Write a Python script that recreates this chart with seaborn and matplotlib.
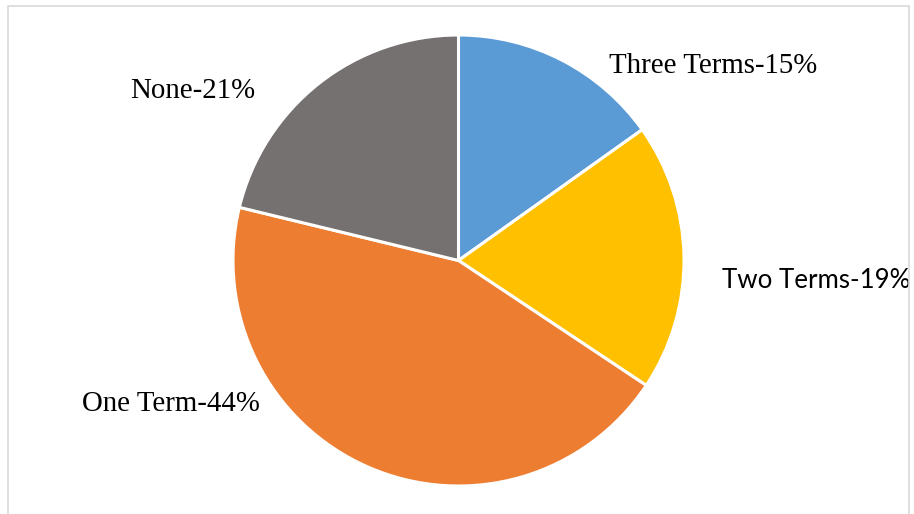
import matplotlib
matplotlib.use("Agg")
import matplotlib.pyplot as plt
import seaborn as sns
from matplotlib.patches import Rectangle

# Share of respondents by number of terms served
categories = ["Three Terms", "Two Terms", "One Term", "None"]
values = [15, 19, 44, 21]
colors = ["#5B9BD5", "#FFC000", "#ED7D31", "#767171"]

sns.set_theme(style="white")

W, H = 914, 514
fig = plt.figure(figsize=(W / 100, H / 100), dpi=100)
ax = fig.add_axes([0, 0, 1, 1])

cx, cy, r = 458.5, H - 260.5, 225.5
ax.pie(values, colors=sns.color_palette(colors), startangle=90, counterclock=False,
       center=(cx, cy), radius=r, frame=True,
       wedgeprops=dict(edgecolor="white", linewidth=2.2))
ax.set_xlim(0, W)
ax.set_ylim(0, H)
ax.set_aspect("equal")
ax.axis("off")

# Category labels with percentages
label_pos = {
    "Three Terms": (609, 73, "serif"),
    "Two Terms": (722, 288, "sans"),
    "One Term": (82, 411, "serif"),
    "None": (130, 98, "serif"),
}
for cat, val in zip(categories, values):
    x, py, kind = label_pos[cat]
    family = ["Liberation Serif"] if kind == "serif" else ["Lato", "DejaVu Sans"]
    size = 20.8 if kind == "serif" else 18.6
    ax.text(x, H - py, f"{cat}-{val}%", ha="left", va="baseline",
            fontsize=size, family=family, color="black")

# Light chart-area border
fig.patches.append(Rectangle((7.5, -10), 901, H - 5.5 + 10, transform=None,
                             fill=False, edgecolor="#D9D9D9", linewidth=1.2))

fig.savefig("out.png", dpi=100)
